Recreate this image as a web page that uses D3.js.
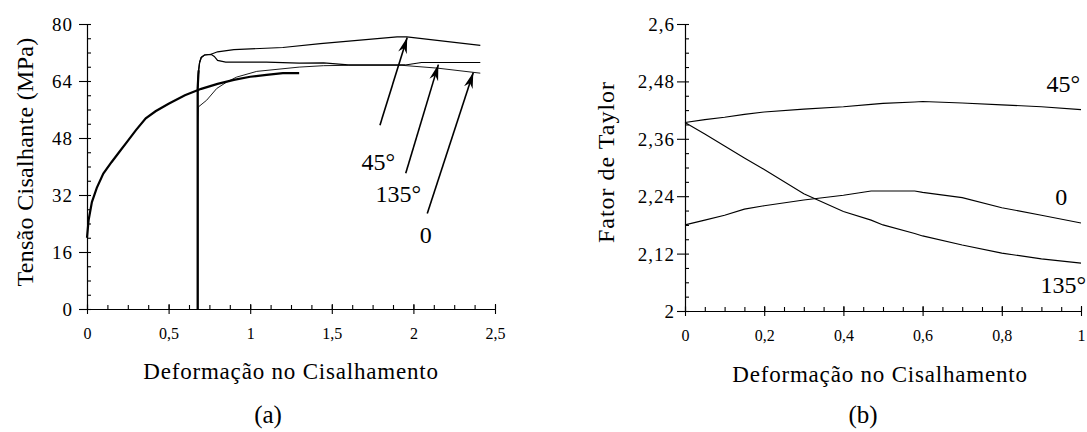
<html>
<head>
<script src="https://d3js.org/d3.v7.min.js"></script>
<style>
    body { margin: 0; background: #fff; }
    text { font-family: "Liberation Serif", "Times New Roman", serif; fill: #000; }
</style>
</head>
<body>
<svg id="svg" width="1087" height="432"></svg>
<script>
// **** Data, panel (a): shear stress (MPa) vs shear strain ****
const stressTicks = [0, 16, 32, 48, 64, 80]
const strainTicksA = [0, 0.5, 1, 1.5, 2, 2.5]

// first loading, thick curve
const curvePrestrain = [[0, 20], [0.01, 25], [0.03, 30], [0.06, 34], [0.1, 38], [0.15, 41.2], [0.2, 44.2],
    [0.25, 47.2], [0.3, 50.2], [0.36, 53.5], [0.42, 55.5], [0.5, 57.6], [0.6, 60], [0.7, 61.8],
    [0.8, 63.2], [0.9, 64.3], [1.0, 65.2], [1.1, 65.7], [1.2, 66.2], [1.3, 66.2]]

// reloading in the new directions
const curve45 = [[0.678, 0], [0.678, 62], [0.684, 67], [0.69, 69.2], [0.70, 70.6], [0.72, 71.3],
    [0.76, 71.5], [0.80, 72.2], [0.9, 72.8], [1.2, 73.4], [1.43, 74.5], [1.9, 76.4], [1.96, 76.4], [2.41, 74.0]]
const curve135 = [[0.678, 0], [0.678, 62], [0.684, 67], [0.69, 69.2], [0.70, 70.6], [0.72, 71.3],
    [0.76, 71.5], [0.78, 70.9], [0.80, 69.8], [0.85, 69.3], [1.1, 69.3], [1.3, 69.0], [1.45, 69.1],
    [1.6, 68.5], [1.95, 68.5], [2.05, 69.2], [2.41, 69.2]]
const curve0 = [[0.678, 0], [0.678, 52], [0.682, 56.7], [0.733, 58.6], [0.795, 61.9], [0.856, 63.7],
    [0.917, 65.1], [1.04, 66.7], [1.3, 67.9], [1.45, 68.3], [1.6, 68.4], [1.93, 68.4], [2.15, 67.6], [2.41, 66.2]]

// arrows: tail, head and label point, in data units
const arrowsA = [
    { label: '45°', tail: [1.795, 51.6], head: [1.962, 76.2], text: [1.785, 41.5] },
    { label: '135°', tail: [1.953, 38.1], head: [2.153, 68.6], text: [1.908, 32.4] },
    { label: '0', tail: [2.085, 26.8], head: [2.367, 66.4], text: [2.075, 20.8] }
]

// **** Data, panel (b): Taylor factor vs shear strain ****
const taylorTicks = [2, 2.12, 2.24, 2.36, 2.48, 2.6]
const strainTicksB = [0, 0.2, 0.4, 0.6, 0.8, 1]
const strainB = [0, 0.05, 0.1, 0.15, 0.2, 0.3, 0.4, 0.47, 0.5, 0.58, 0.6, 0.7, 0.8, 0.9, 1.0]
const taylor45 = [2.394, 2.4, 2.405, 2.411, 2.416, 2.422, 2.427, 2.432, 2.434, 2.437, 2.438, 2.435, 2.431, 2.427, 2.421]
const taylor135 = [2.394, 2.37, 2.345, 2.32, 2.296, 2.245, 2.208, 2.19, 2.18, 2.162, 2.157, 2.138, 2.121, 2.109, 2.10]
const taylor0 = [2.18, 2.19, 2.2, 2.213, 2.22, 2.232, 2.242, 2.251, 2.251, 2.251, 2.248, 2.237, 2.216, 2.2, 2.184]
const labelsB = [
    { label: '45°', x: 0.955, y: 2.475 },
    { label: '0', x: 0.95, y: 2.24 },
    { label: '135°', x: 0.955, y: 2.056 }
]

// **** Helpers ****
const FONT = '"Liberation Serif", "Times New Roman", serif'
const comma = d => String(d).replace('.', ',')
const svg = d3.select('#svg')

function range(a, b, step) {
    const out = []
    for (let v = a; v <= b + 1e-9; v += step) out.push(+v.toFixed(4))
    return out
}

function label(x, y, str, size, opts = {}) {
    return svg.append('text').attr('x', x).attr('y', y)
        .attr('text-anchor', opts.anchor || 'middle')
        .attr('dy', opts.dy || null)
        .attr('font-family', FONT).attr('font-size', size)
        .attr('letter-spacing', opts.spacing || null)
        .text(str)
}

function drawAxes(x, y, xMajor, xStep, yMajor, yStep, yLabelGap) {
    const x0 = x.range()[0], y0 = y.range()[0]
    const xMinor = range(x.domain()[0], x.domain()[1], xStep)
    const yMinor = range(y.domain()[0], y.domain()[1], yStep)

    // minor ticks
    svg.append('g').attr('transform', `translate(0,${y0})`)
        .call(d3.axisTop(x).tickValues(xMinor).tickSize(4).tickSizeOuter(0).tickFormat(''))
    svg.append('g').attr('transform', `translate(${x0},0)`)
        .call(d3.axisRight(y).tickValues(yMinor).tickSize(4).tickSizeOuter(0).tickFormat(''))

    // major ticks crossing the x axis
    svg.append('g').attr('transform', `translate(0,${y0})`)
        .call(d3.axisTop(x).tickValues(xMajor).tickSize(5).tickSizeOuter(0).tickFormat(''))
    svg.append('g').attr('transform', `translate(0,${y0})`)
        .call(d3.axisBottom(x).tickValues(xMajor).tickSize(5).tickSizeOuter(0).tickPadding(14).tickFormat(comma))
        .call(g => g.selectAll('text').attr('font-size', 16).attr('font-family', FONT))

    svg.append('g').attr('transform', `translate(${x0},0)`)
        .call(d3.axisLeft(y).tickValues(yMajor).tickSize(8).tickSizeOuter(0).tickPadding(yLabelGap).tickFormat(comma))
        .call(g => g.selectAll('text').attr('font-size', 19).attr('dy', '0.34em')
            .attr('font-family', FONT).attr('letter-spacing', 1))

    svg.selectAll('.domain, .tick line').attr('stroke', '#000').attr('stroke-width', 1.1)
}

// **** Panel (a) ****
const xA = d3.scaleLinear().domain([0, 2.5]).range([87, 495])
const yA = d3.scaleLinear().domain([0, 80]).range([309, 24])
drawAxes(xA, yA, strainTicksA, 0.125, stressTicks, 4, 6)

const lineA = d3.line().x(d => xA(d[0])).y(d => yA(d[1]))
svg.append('path').attr('d', lineA(curve0)).attr('fill', 'none').attr('stroke', '#000').attr('stroke-width', 0.9)
svg.append('path').attr('d', lineA(curve135)).attr('fill', 'none').attr('stroke', '#000').attr('stroke-width', 1.2)
svg.append('path').attr('d', lineA(curve45)).attr('fill', 'none').attr('stroke', '#000').attr('stroke-width', 1.2)
svg.append('path').attr('d', lineA(curvePrestrain)).attr('fill', 'none').attr('stroke', '#000').attr('stroke-width', 2.2)
// heavier reloading stem
svg.append('path').attr('d', lineA(curve45.slice(0, 3))).attr('fill', 'none').attr('stroke', '#000').attr('stroke-width', 2.2)

svg.append('defs').append('marker')
    .attr('id', 'head').attr('viewBox', '-16 -6 18 12')
    .attr('refX', 0).attr('refY', 0)
    .attr('markerWidth', 18).attr('markerHeight', 12)
    .attr('markerUnits', 'userSpaceOnUse').attr('orient', 'auto')
    .append('path').attr('d', 'M0,0 L-16,-4.5 L-11,0 L-16,4.5 Z').attr('fill', '#000')

arrowsA.forEach(a => {
    svg.append('line')
        .attr('x1', xA(a.tail[0])).attr('y1', yA(a.tail[1]))
        .attr('x2', xA(a.head[0])).attr('y2', yA(a.head[1]))
        .attr('stroke', '#000').attr('stroke-width', 1.6)
        .attr('marker-end', 'url(#head)')
    label(xA(a.text[0]), yA(a.text[1]), a.label, 24, { dy: '0.35em' })
})

svg.append('text').attr('transform', 'translate(25,162) rotate(-90)')
    .attr('text-anchor', 'middle').attr('dy', '0.35em').attr('font-size', 24).attr('font-family', FONT)
    .attr('letter-spacing', 0.3)
    .text('Tensão Cisalhante (MPa)')
label(291, 379, 'Deformação no Cisalhamento', 23, { spacing: 0.8 })
label(268, 423, '(a)', 25)

// **** Panel (b) ****
const xB = d3.scaleLinear().domain([0, 1]).range([685, 1081])
const yB = d3.scaleLinear().domain([2, 2.6]).range([311, 24])
drawAxes(xB, yB, strainTicksB, 0.05, taylorTicks, 0.03, 2)

const lineB = d3.line().x((d, i) => xB(strainB[i])).y(d => yB(d))
;[taylor45, taylor135, taylor0].forEach(s => {
    svg.append('path').attr('d', lineB(s)).attr('fill', 'none').attr('stroke', '#000').attr('stroke-width', 1.1)
})
labelsB.forEach(l => label(xB(l.x), yB(l.y), l.label, 24, { dy: '0.35em' }))

svg.append('text').attr('transform', 'translate(606,162) rotate(-90)')
    .attr('text-anchor', 'middle').attr('dy', '0.35em').attr('font-size', 24).attr('font-family', FONT)
    .attr('letter-spacing', 1)
    .text('Fator de Taylor')
label(880, 382, 'Deformação no Cisalhamento', 23, { spacing: 0.8 })
label(863, 423, '(b)', 25)
</script>
</body>
</html>
